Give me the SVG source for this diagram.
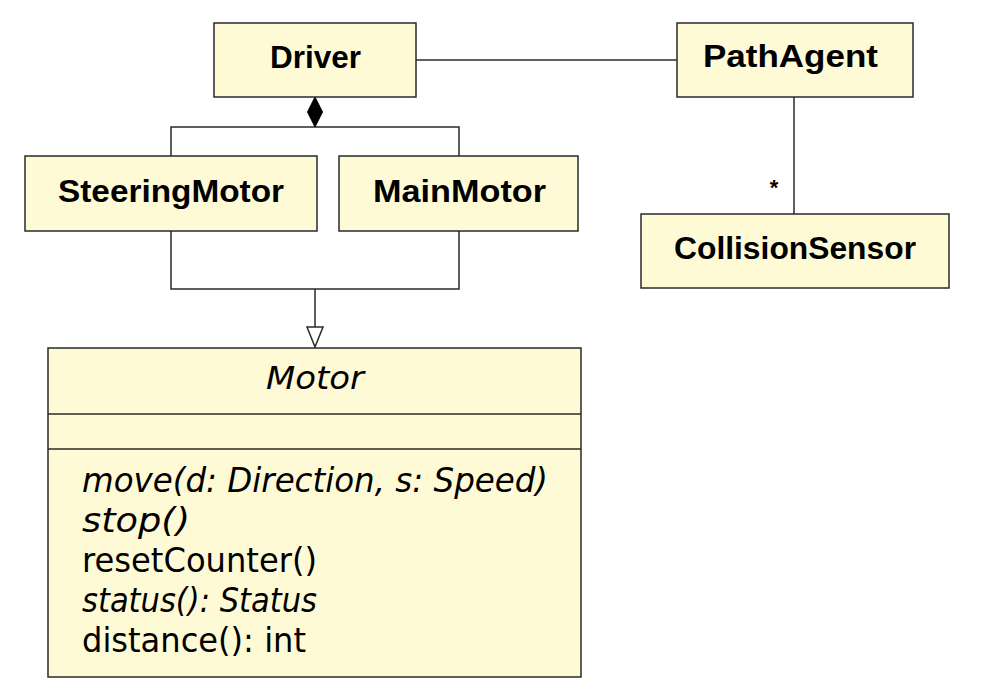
<svg xmlns="http://www.w3.org/2000/svg" width="992" height="697" viewBox="0 0 992 697">
<style>
.box{fill:#FFFAD6;stroke:#2a2a2a;stroke-width:1.5}
.sep{stroke:#2a2a2a;stroke-width:1.5;fill:none}
.conn{stroke:#2a2a2a;stroke-width:1.5;fill:none}
.name{font-family:"Liberation Sans",Arial,sans-serif;font-weight:bold;font-size:32px;fill:#000}
.op{font-family:"DejaVu Sans",sans-serif;font-size:33px;fill:#000}
.it{font-style:italic}
</style>
<rect width="992" height="697" fill="#fff"/>
<g id="connectors">
<line class="conn" x1="416" y1="60" x2="677" y2="60"/>
<path class="conn" d="M171,156 V127 H459 V156"/>
<polygon points="315,97 322.5,112 315,127 307.5,112" fill="#000" stroke="#000" stroke-width="1"/>
<path class="conn" d="M171,231 V289 H459 V231 M315,289 V327"/>
<polygon points="307,327 323,327 315,347" fill="#fff" stroke="#2a2a2a" stroke-width="1.5"/>
<line class="conn" x1="794" y1="97" x2="794" y2="214"/>
<text x="774" y="195" text-anchor="middle" style="font-family:'Liberation Sans',Arial,sans-serif;font-size:22px;font-weight:bold">*</text>
</g>
<g id="Driver">
<rect class="box" x="214" y="23" width="202" height="74"/>
<text class="name" x="270" y="68" textLength="91" lengthAdjust="spacingAndGlyphs">Driver</text>
</g>
<g id="PathAgent">
<rect class="box" x="677" y="23" width="236" height="74"/>
<text class="name" x="703" y="67" textLength="175" lengthAdjust="spacingAndGlyphs">PathAgent</text>
</g>
<g id="SteeringMotor">
<rect class="box" x="25" y="156" width="292" height="75"/>
<text class="name" x="58" y="202" textLength="226" lengthAdjust="spacingAndGlyphs">SteeringMotor</text>
</g>
<g id="MainMotor">
<rect class="box" x="339" y="156" width="239" height="75"/>
<text class="name" x="373" y="202" textLength="173" lengthAdjust="spacingAndGlyphs">MainMotor</text>
</g>
<g id="CollisionSensor">
<rect class="box" x="641" y="214" width="308" height="74"/>
<text class="name" x="674" y="259" textLength="242" lengthAdjust="spacingAndGlyphs">CollisionSensor</text>
</g>
<g id="Motor">
<rect class="box" x="48" y="348" width="533" height="329"/>
<line class="sep" x1="48" y1="414" x2="581" y2="414"/>
<line class="sep" x1="48" y1="449" x2="581" y2="449"/>
<text class="op it" x="266" y="389" style="font-size:32px" textLength="98" lengthAdjust="spacingAndGlyphs">Motor</text>
<text class="op it" x="82" y="492" textLength="466" lengthAdjust="spacingAndGlyphs">move(d: Direction, s: Speed)</text>
<text class="op it" x="82" y="532" textLength="108" lengthAdjust="spacingAndGlyphs">stop()</text>
<text class="op" x="82" y="572" textLength="235" lengthAdjust="spacingAndGlyphs">resetCounter()</text>
<text class="op it" x="82" y="612" textLength="235" lengthAdjust="spacingAndGlyphs">status(): Status</text>
<text class="op" x="82" y="652" textLength="224" lengthAdjust="spacingAndGlyphs">distance(): int</text>
</g>
</svg>
